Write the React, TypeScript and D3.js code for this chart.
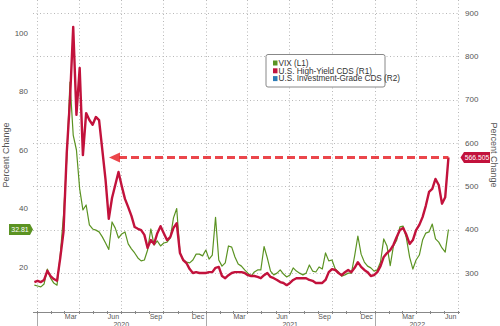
import React from "react";
import * as d3 from "d3";

const width = 500;
const height = 326;
const green = "#5b9322";
const red = "#c2123c";
const blue = "#2c7bb6";
const font = "'Liberation Sans', Arial, sans-serif";

// weekly closes (Fridays) from 2019-12-27 to 2022-06-10
const weeks = d3.timeFriday.range(new Date(2019, 11, 27), new Date(2022, 5, 11));

// VIX level (left axis)
const vix = [
  13.8, 13.5, 13.2, 14.2, 19.3, 16.2, 14.5, 13.8, 24.1, 37.8, 56.6, 83.2, 65.1, 60.0, 46.7, 39.5,
  41.2, 34.4, 33.0, 32.6, 32.0, 30.3, 28.2, 26.0, 35.4, 33.3, 29.9, 31.3, 32.0, 27.9, 26.2, 24.8,
  23.1, 22.1, 22.4, 25.8, 33.0, 27.5, 28.9, 27.2, 28.2, 28.5, 29.9, 36.8, 40.0, 24.8, 22.4, 21.7,
  21.4, 22.4, 24.4, 24.4, 23.8, 25.8, 22.7, 24.1, 37.0, 22.4, 20.3, 21.4, 27.2, 26.8, 23.4, 21.0,
  20.3, 19.0, 17.9, 16.9, 18.3, 19.0, 19.0, 27.0, 23.1, 18.6, 17.3, 17.9, 19.0, 17.6, 16.6, 17.3,
  19.7, 18.6, 17.9, 17.3, 17.9, 20.7, 18.6, 18.3, 20.0, 19.3, 24.8, 22.1, 22.4, 19.3, 18.3, 16.9,
  17.3, 17.9, 17.9, 23.8, 30.6, 24.4, 21.7, 20.3, 19.7, 18.6, 19.0, 21.7, 29.6, 27.2, 20.5, 27.2,
  29.2, 33.7, 34.0, 29.9, 23.4, 19.3, 22.4, 24.1, 29.2, 31.6, 32.0, 34.7, 29.6, 28.5, 26.5, 25.1,
  32.81
];

// U.S. high-yield CDS spread (right axis)
const hyCds = [
  279, 282, 279, 284, 305, 293, 286, 282, 335, 395, 577, 699, 868, 665, 773, 572,
  669, 653, 642, 660, 653, 584, 515, 425, 473, 503, 533, 501, 471, 452, 432, 406,
  402, 399, 388, 358, 376, 367, 392, 408, 392, 376, 383, 404, 415, 346, 330, 323,
  309, 300, 302, 300, 300, 300, 302, 302, 312, 314, 293, 288, 295, 300, 302, 302,
  302, 300, 295, 293, 293, 291, 288, 295, 300, 291, 288, 284, 279, 277, 272, 277,
  284, 288, 288, 288, 288, 284, 282, 277, 277, 277, 284, 302, 309, 307, 300, 295,
  302, 307, 302, 312, 325, 314, 307, 302, 293, 295, 302, 316, 337, 346, 353, 365,
  383, 399, 404, 388, 367, 376, 399, 411, 429, 455, 487, 494, 517, 503, 460, 475,
  566.505
];

const leftTicks = [20, 40, 60, 80, 100];
const rightTicks = [300, 400, 500, 600, 700, 800, 900];
const legendItems = [
  { label: "VIX (L1)", color: green },
  { label: "U.S. High-Yield CDS (R1)", color: red },
  { label: "U.S. Investment-Grade CDS (R2)", color: blue },
];
const monthLabels = ["Mar", "Jun", "Sep", "Dec"];
const years = [2020, 2021, 2022];

const x = d3.scaleTime().domain([new Date(2019, 11, 24), new Date(2022, 6, 5)]).range([33, 460]);
const yL = d3.scaleLinear().domain([0, 100]).range([325.5, 33]);
const yR = d3.scaleLinear().domain([300, 900]).range([273, 13]);
const axisY = 312;

export default function App() {
  const vixLine = d3.line<number>().x((d, i) => x(weeks[i])).y(d => yL(d))(vix) || "";
  const hyLine = d3.line<number>().x((d, i) => x(weeks[i])).y(d => yR(d))(hyCds) || "";

  const quarters = d3.timeMonth.every(3)!.range(new Date(2020, 0, 1), new Date(2022, 6, 2));
  const months = d3.timeMonth.range(new Date(2020, 0, 1), new Date(2022, 6, 2));
  const monthTicks = d3.timeMonth
    .range(new Date(2020, 0, 1), new Date(2022, 6, 1))
    .filter(d => d.getMonth() % 3 === 2)
    .map(d => new Date(d.getFullYear(), d.getMonth(), 15));
  const [x0, x1] = x.range();

  const lastVix = vix[vix.length - 1];
  const lastHy = hyCds[hyCds.length - 1];
  const lastX = x(weeks[weeks.length - 1]);
  const gy = yL(lastVix);
  const ry = yR(lastHy);

  return (
    <svg width={width} height={height} style={{ position: "absolute", left: 0, top: 0, background: "#fff" }} fontFamily={font}>
      {/* grid */}
      <g stroke="#b8b8b8" strokeWidth={1} strokeDasharray="1,2.5">
        {rightTicks.map(t => (
          <line key={t} x1={33} x2={460} y1={Math.round(yR(t)) + 0.5} y2={Math.round(yR(t)) + 0.5} />
        ))}
        {quarters.map(d => (
          <line key={+d} x1={Math.round(x(d)) + 0.5} x2={Math.round(x(d)) + 0.5} y1={0} y2={axisY} />
        ))}
      </g>

      {/* left axis */}
      <g fontSize={8} fill="#555" textAnchor="end">
        {leftTicks.map(t => (
          <text key={t} x={28} y={yL(t)} dy="0.35em">{t}</text>
        ))}
      </g>
      <text transform={`translate(6,${155}) rotate(-90)`} textAnchor="middle" dy="0.35em" fontSize={9} fill="#555">Percent Change</text>

      {/* right axis */}
      <g fontSize={8} fill="#555">
        {rightTicks.map(t => (
          <text key={t} x={465} y={yR(t)} dy="0.35em">{t}</text>
        ))}
      </g>
      <text transform={`translate(494,${155}) rotate(90)`} textAnchor="middle" dy="0.35em" fontSize={9} fill="#555">Percent Change</text>

      {/* x axis */}
      <line x1={33} x2={460} y1={axisY + 0.5} y2={axisY + 0.5} stroke="#888" />
      {months.map(d => (
        <line key={+d} x1={Math.round(x(d)) + 0.5} x2={Math.round(x(d)) + 0.5} y1={axisY - 1} y2={axisY + 2} stroke="#888" />
      ))}
      {years.map(yr => (
        <line key={yr} x1={Math.round(x(new Date(yr, 0, 1))) + 0.5} x2={Math.round(x(new Date(yr, 0, 1))) + 0.5} y1={axisY + 2} y2={height} stroke="#aaa" />
      ))}
      <g fontSize={7} fill="#555" textAnchor="middle">
        {monthTicks.map(d => (
          <text key={+d} x={x(d)} y={318.5}>{monthLabels[Math.floor(d.getMonth() / 3)]}</text>
        ))}
        {years.map(yr => {
          const a = Math.max(x0, x(new Date(yr, 0, 1)));
          const b = Math.min(x1, x(new Date(yr + 1, 0, 1)));
          return <text key={yr} x={(a + b) / 2} y={326.5}>{yr}</text>;
        })}
      </g>

      {/* series */}
      <path d={vixLine} fill="none" stroke={green} strokeWidth={1.2} strokeLinejoin="round" />
      <path d={hyLine} fill="none" stroke={red} strokeWidth={2.4} strokeLinejoin="round" />

      {/* dashed arrow */}
      <line x1={119} x2={lastX} y1={ry} y2={ry} stroke="#e8262b" strokeOpacity={0.85} strokeWidth={3} strokeDasharray="8,4" />
      <path d={`M109,${ry}L120,${ry - 5}L120,${ry + 5}Z`} fill="#e8262b" fillOpacity={0.85} />

      {/* last value labels */}
      <path d={`M9,${gy - 5.5}H30L33,${gy}L30,${gy + 5.5}H9Z`} fill={green} />
      <text x={20} y={gy} dy="0.35em" fontSize={7} fill="#fff" textAnchor="middle">{lastVix}</text>
      <path d={`M464,${ry - 5.5}H490V${ry + 5.5}H464L460.5,${ry}Z`} fill={red} />
      <text x={477} y={ry} dy="0.35em" fontSize={6.8} fill="#fff" textAnchor="middle">{lastHy}</text>

      {/* legend */}
      <rect x={266} y={54.5} width={119} height={32.5} rx={2} fill="#fff" stroke="#888" />
      {legendItems.map((it, i) => (
        <g key={it.label} transform={`translate(273,${63 + i * 7.8})`}>
          <rect x={0} y={-2.5} width={4.5} height={5} fill={it.color} />
          <text x={5.5} y={0} dy="0.35em" fontSize={8.2} fill="#333">{it.label}</text>
        </g>
      ))}
    </svg>
  );
}
